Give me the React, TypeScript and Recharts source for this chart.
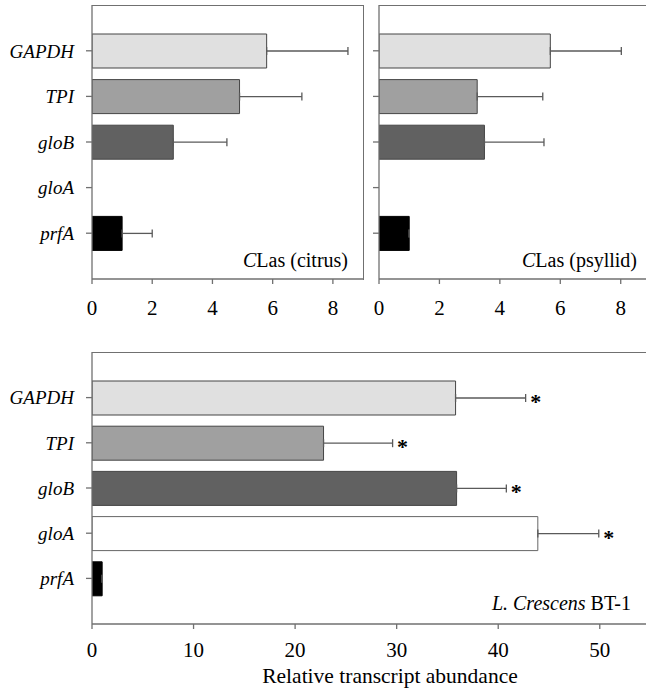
import React from "react";
import {
  BarChart,
  Bar,
  XAxis,
  YAxis,
  ErrorBar,
  Cell,
  LabelList,
  Label,
} from "recharts";

const genes = ["GAPDH", "TPI", "gloB", "gloA", "prfA"];
const barColors = ["#e0e0e0", "#a0a0a0", "#616161", "#ffffff", "#000000"];

const citrusValues = [5.8, 4.9, 2.7, 0, 1.0];
const citrusErrors = [2.7, 2.07, 1.78, 0, 1.0];

const psyllidValues = [5.67, 3.25, 3.49, 0, 1.0];
const psyllidErrors = [2.35, 2.17, 1.97, 0, 0];

const crescensValues = [35.8, 22.8, 35.9, 43.9, 1.0];
const crescensErrors = [6.9, 6.8, 4.9, 6.0, 0];
const crescensSig = ["*", "*", "*", "*", ""];

const smallTicks = [0, 2, 4, 6, 8];
const bigTicks = [0, 10, 20, 30, 40, 50];

const FONT = '"Liberation Serif", Times, serif';
const AXIS = "#707070";

function makeRows(values: number[], errors: number[], sig?: string[]) {
  return genes.map((g, i) => ({
    gene: g,
    value: values[i],
    err: [0, errors[i]],
    errHi: errors[i],
    sig: sig ? sig[i] : "",
  }));
}

const citrusData = makeRows(citrusValues, citrusErrors);
const psyllidData = makeRows(psyllidValues, psyllidErrors);
const crescensData = makeRows(crescensValues, crescensErrors, crescensSig);

const numTick = { fontSize: 21, fontFamily: FONT, fill: "#000" };
const geneTick = { fontSize: 19, fontFamily: FONT, fill: "#000", fontStyle: "italic" };

// asterisk after the error bar; px/unit taken from the bar itself
function SigLabel(props: any) {
  const { x, y, width, height, index, value } = props;
  if (!value) return null;
  const row = crescensData[index];
  const pxPerUnit = width / row.value;
  const end = x + width + row.errHi * pxPerUnit;
  return (
    <text
      x={end + 10}
      y={y + height / 2 + 11}
      textAnchor="middle"
      fontFamily={FONT}
      fontSize={22}
      fontWeight="bold"
      fill="#000"
    >
      {value}
    </text>
  );
}

function Panel(props: {
  data: any[];
  width: number;
  height: number;
  margin: any;
  yWidth: number;
  domain: [number, number];
  ticks: number[];
  showGenes: boolean;
  sig?: boolean;
  xLabel?: string;
  labelDx?: number;
  xHeight: number;
  pad: number;
  tickGap: number;
}) {
  const { data, domain, ticks } = props;
  return (
    <BarChart
      width={props.width}
      height={props.height}
      data={data}
      layout="vertical"
      margin={props.margin}
      barSize={34}
    >
      <XAxis
        type="number"
        domain={domain}
        ticks={ticks}
        allowDataOverflow
        tick={numTick}
        tickSize={5}
        tickMargin={props.tickGap}
        height={props.xHeight}
        axisLine={{ stroke: AXIS, strokeWidth: 1.3 }}
        tickLine={{ stroke: AXIS, strokeWidth: 1.3 }}
      >
        {props.xLabel && (
          <Label
            value={props.xLabel}
            position="insideBottom"
            offset={9}
            dx={props.labelDx || 0}
            style={{ fontSize: 21.5, fontFamily: FONT, fill: "#000" }}
          />
        )}
      </XAxis>
      <YAxis
        type="category"
        dataKey="gene"
        width={props.yWidth}
        padding={{ top: props.pad, bottom: props.pad }}
        tick={props.showGenes ? geneTick : { fontSize: 1, fill: "none" }}
        tickFormatter={props.showGenes ? undefined : () => ""}
        tickSize={6}
        tickMargin={12}
        axisLine={{ stroke: AXIS, strokeWidth: 1.3 }}
        tickLine={{ stroke: AXIS, strokeWidth: 1.3 }}
      />
      <Bar dataKey="value" isAnimationActive={false} stroke="#404040" strokeWidth={1}>
        {data.map((d, i) => (
          <Cell key={d.gene} fill={barColors[i]} stroke={i === 4 ? "#000" : i === 3 ? "#666" : "#454545"} />
        ))}
        <ErrorBar dataKey="err" direction="x" width={4} stroke="#5a5a5a" strokeWidth={1.3} />
        {props.sig && <LabelList dataKey="sig" content={SigLabel} />}
      </Bar>
    </BarChart>
  );
}

function Note(props: { right: number; top: number; children: React.ReactNode; size: number }) {
  return (
    <div
      style={{
        position: "absolute",
        right: props.right,
        top: props.top,
        fontFamily: FONT,
        fontSize: props.size,
        lineHeight: 1,
        whiteSpace: "nowrap",
        color: "#000",
      }}
    >
      {props.children}
    </div>
  );
}

// plain frame lines round the plot areas (top and right edges)
function Frame(props: { left: number; top: number; width: number; height: number; right?: boolean }) {
  return (
    <div
      style={{
        position: "absolute",
        left: props.left,
        top: props.top,
        width: props.width,
        height: props.height,
        borderTop: `1.3px solid ${AXIS}`,
        borderRight: props.right ? `1.3px solid ${AXIS}` : "none",
        boxSizing: "border-box",
        pointerEvents: "none",
      }}
    />
  );
}

export default function App() {
  return (
    <div
      style={{
        position: "absolute",
        left: 0,
        top: 0,
        width: 646,
        height: 692,
        background: "#fff",
        overflow: "hidden",
        fontFamily: FONT,
      }}
    >
      <div style={{ position: "absolute", left: 0, top: 0 }}>
        <Panel
          data={citrusData}
          width={370}
          height={330}
          margin={{ top: 5, right: 7, bottom: 0, left: 0 }}
          yWidth={92}
          domain={[0, 9]}
          ticks={smallTicks}
          showGenes
          xHeight={51}
          pad={23}
          tickGap={16}
        />
      </div>
      <div style={{ position: "absolute", left: 360, top: 0 }}>
        <Panel
          data={psyllidData}
          width={300}
          height={330}
          margin={{ top: 5, right: 0, bottom: 0, left: 0 }}
          yWidth={19}
          domain={[0, 9.3]}
          ticks={smallTicks}
          showGenes={false}
          xHeight={51}
          pad={23}
          tickGap={16}
        />
      </div>
      <div style={{ position: "absolute", left: 0, top: 320 }}>
        <Panel
          data={crescensData}
          width={680}
          height={372}
          margin={{ top: 32, right: 0, bottom: 0, left: 0 }}
          yWidth={92}
          domain={[0, 57.9]}
          ticks={bigTicks}
          showGenes
          sig
          xLabel="Relative transcript abundance"
          labelDx={4}
          xHeight={68}
          pad={23}
          tickGap={13}
        />
      </div>
      <Frame left={92} top={4.5} width={271.5} height={275} right />
      <Frame left={379} top={4.5} width={300} height={275} />
      <Frame left={92} top={351.5} width={600} height={272} />
      <Note right={646 - 348} top={250} size={20}>
        <i>C</i>Las (citrus)
      </Note>
      <Note right={646 - 637} top={250} size={20}>
        <i>C</i>Las (psyllid)
      </Note>
      <Note right={646 - 631} top={593} size={20}>
        <i>L. Crescens</i> BT-1
      </Note>
    </div>
  );
}
